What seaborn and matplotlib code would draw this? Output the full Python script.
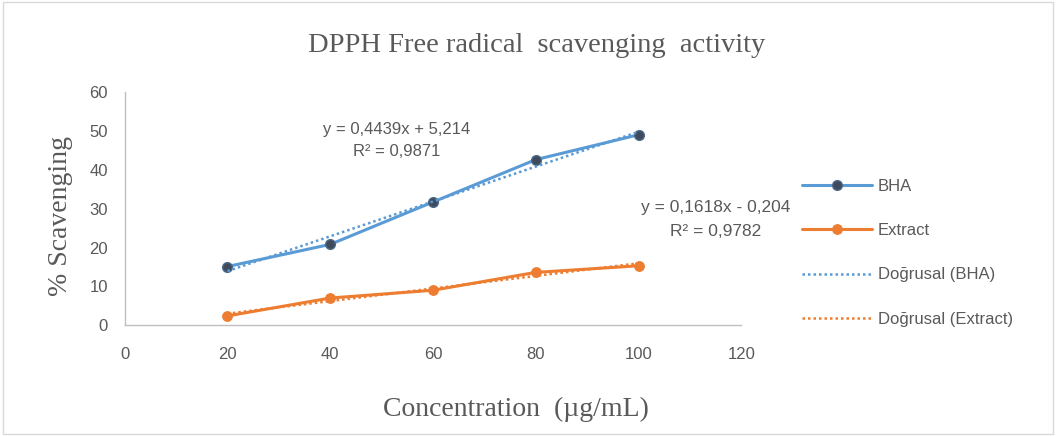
import numpy as np
import pandas as pd
import matplotlib
matplotlib.use("Agg")
import matplotlib.pyplot as plt
import seaborn as sns

sns.set_style("white")

# data
conc = [20, 40, 60, 80, 100]
bha = [15.1, 20.8, 31.7, 42.6, 49.0]
extract = [2.4, 7.0, 9.0, 13.6, 15.3]
x_ticks = [0, 20, 40, 60, 80, 100, 120]
y_ticks = [0, 10, 20, 30, 40, 50, 60]
eq_bha = "y = 0,4439x + 5,214\nR² = 0,9871"
eq_ext = "y = 0,1618x - 0,204\nR² = 0,9782"

blue = "#5B9BD5"
orange = "#ED7D31"
grey = "#595959"
sans = "Liberation Sans"

df = pd.DataFrame({"conc": conc * 2,
                   "val": bha + extract,
                   "series": ["BHA"] * 5 + ["Extract"] * 5})

fig = plt.figure(figsize=(10.56, 4.36), dpi=100)
ax = fig.add_axes([0.118, 0.254, 0.584, 0.535])

sns.lineplot(data=df[df.series == "BHA"], x="conc", y="val", ax=ax, color=blue,
             lw=2.2, marker="o", markersize=7, markerfacecolor="#3F4B5C",
             markeredgecolor="#4A6A8A", markeredgewidth=1, label="BHA", legend=False)
sns.lineplot(data=df[df.series == "Extract"], x="conc", y="val", ax=ax, color=orange,
             lw=2.2, marker="o", markersize=7, markerfacecolor=orange,
             markeredgecolor=orange, label="Extract", legend=False)

# linear trend lines
xs = np.array(conc)
for ys, c, lab in [(bha, blue, "Doğrusal (BHA)"), (extract, orange, "Doğrusal (Extract)")]:
    m, b = np.polyfit(xs, ys, 1)
    ax.plot(xs, m * xs + b, ls=(0, (1, 1.2)), color=c, lw=1.8, label=lab)

ax.set_xlim(0, 120)
ax.set_ylim(0, 60)
ax.set_xticks(x_ticks)
ax.set_yticks(y_ticks)
ax.tick_params(axis="both", length=0, labelsize=12, labelcolor=grey)
ax.tick_params(axis="x", pad=16)
ax.tick_params(axis="y", pad=12)
for lbl in ax.get_xticklabels() + ax.get_yticklabels():
    lbl.set_family(sans)
for s in ["top", "right"]:
    ax.spines[s].set_visible(False)
for s in ["left", "bottom"]:
    ax.spines[s].set_color("#BFBFBF")
    ax.spines[s].set_linewidth(1)

ax.set_xlabel("")
ax.set_ylabel("")
fig.text(0.489, 0.06, "Concentration  (µg/mL)", family="Liberation Serif",
         fontsize=20, color=grey, ha="center", va="center")
fig.text(0.057, 0.505, "% Scavenging", family="Liberation Serif", fontsize=20,
         color=grey, ha="center", va="center", rotation=90)
fig.text(0.508, 0.895, "DPPH Free radical  scavenging  activity",
         family="Liberation Serif", fontsize=20.5, color=grey, ha="center", va="center")

ax.text(53, 47.6, eq_bha, fontsize=12, family=sans, color=grey, ha="center",
        va="center", linespacing=1.6, multialignment="center")
ax.text(129.5, 27.2, eq_ext, fontsize=12.5, family=sans, color=grey, ha="right",
        va="center", linespacing=1.75, multialignment="center", clip_on=False)

handles, labels = ax.get_legend_handles_labels()
fig.legend(handles, labels, loc="center left", bbox_to_anchor=(0.745, 0.42),
           frameon=False, prop={"family": sans, "size": 12}, labelcolor=grey,
           handlelength=4.2, labelspacing=1.75, handletextpad=0.35)

# outer chart border
fig.patches.append(plt.Rectangle((0.003, 0.005), 0.994, 0.99, transform=fig.transFigure,
                                 fill=False, edgecolor="#D9D9D9", lw=1))

fig.savefig("out.png", dpi=100)
